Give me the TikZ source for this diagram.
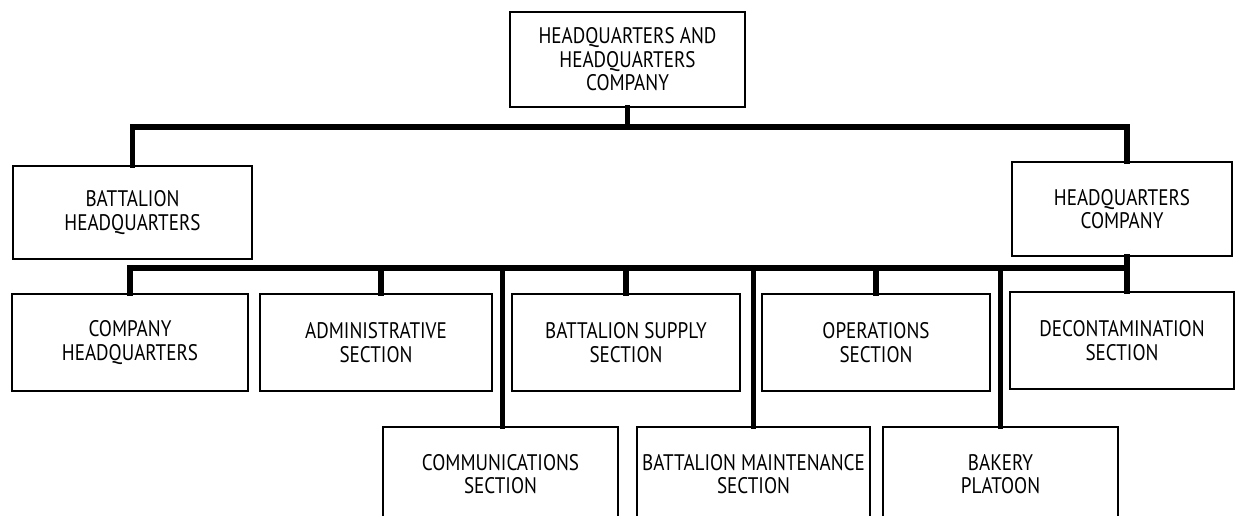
\documentclass[tikz,border=0pt]{standalone}
\usepackage{fontspec}
\setmainfont{PT Sans}[FakeStretch=0.85]
\begin{document}
\begin{tikzpicture}[x=1pt,y=-1pt,
  box/.style={draw, line width=2.2pt, rectangle, align=center, inner sep=0pt,
    font=\fontsize{22.5}{23.5}\selectfont},
  conn/.style={line width=5.5pt, line join=miter, line cap=rect}]
\useasboundingbox (0,0) rectangle (1240,516);
\clip (0,0) rectangle (1240,516);
% level 0
\node[box, minimum width=235pt, minimum height=95pt] (top) at (627.5,59.5) {HEADQUARTERS AND\\HEADQUARTERS\\COMPANY};
% level 1
\node[box, minimum width=239pt, minimum height=93pt] (bhq) at (132.5,212.5) {BATTALION\\HEADQUARTERS};
\node[box, minimum width=220pt, minimum height=94pt] (hqc) at (1122,209) {HEADQUARTERS\\COMPANY};
% level 2, row 1
\node[box, minimum width=236pt, minimum height=97pt] (chq) at (130,342.5) {COMPANY\\HEADQUARTERS};
\node[box, minimum width=232pt, minimum height=97pt] (adm) at (376,342.5) {ADMINISTRATIVE\\SECTION};
\node[box, minimum width=228pt, minimum height=97pt] (sup) at (626,342.5) {BATTALION SUPPLY\\SECTION};
\node[box, minimum width=228pt, minimum height=97pt] (ops) at (876,342.5) {OPERATIONS\\SECTION};
\node[box, minimum width=224pt, minimum height=97pt] (dec) at (1122,340.5) {DECONTAMINATION\\SECTION};
% level 2, row 2
\node[box, minimum width=235pt, minimum height=94pt] (com) at (500.5,474) {COMMUNICATIONS\\SECTION};
\node[box, minimum width=233pt, minimum height=94pt] (mnt) at (753.5,474) {BATTALION MAINTENANCE\\SECTION};
\node[box, minimum width=235pt, minimum height=94pt] (bak) at (1000.5,474) {BAKERY\\PLATOON};
% buses
\coordinate (bus1) at (0,127);
\coordinate (bus2) at (0,268);
\draw[conn] (top.south) -- (top.south |- bus1);
\draw[conn] (bhq.north) |- ([xshift=5pt]hqc.north |- bus1) -- ([xshift=5pt]hqc.north);
\draw[conn] ([xshift=5pt]hqc.south) -- ([xshift=5pt]dec.north);
\draw[conn] (chq.north) |- ([xshift=5pt]hqc.south |- bus2);
\draw[conn] ([xshift=5pt]adm.north) -- ([xshift=5pt]adm.north |- bus2);
\draw[conn] (sup.north) -- (sup.north |- bus2);
\draw[conn] (ops.north) -- (ops.north |- bus2);
\draw[conn] ([xshift=2pt]com.north) -- ([xshift=2pt]com.north |- bus2);
\draw[conn] (mnt.north) -- (mnt.north |- bus2);
\draw[conn] (bak.north) -- (bak.north |- bus2);
\end{tikzpicture}
\end{document}
